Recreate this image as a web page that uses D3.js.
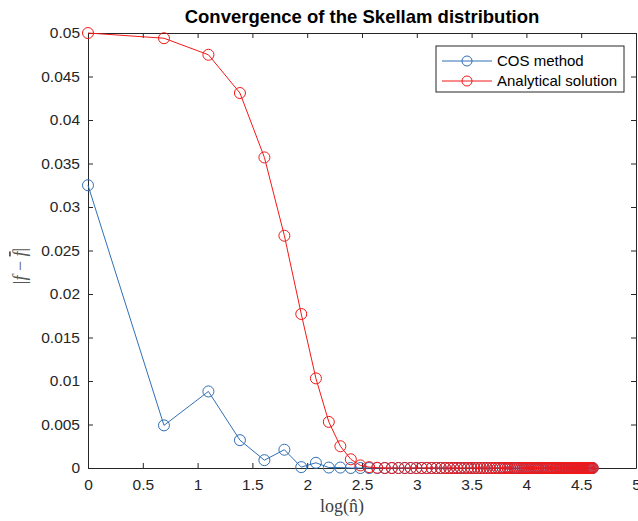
<!DOCTYPE html>
<meta charset="utf-8">
<style>
body { margin: 0; background: #fff; }
.tick text { font-family: "Liberation Sans", Arial, sans-serif; font-size: 15.5px; fill: #262626; }
.tick line, .domain { stroke: #262626; }
.lines { fill: none; stroke-width: 1px; }
.mk { fill: none; stroke-width: 1px; }
</style>
<svg width="638" height="521"></svg>
<script src="https://d3js.org/d3.v7.min.js"></script>
<script>

// n-hat values (x axis shows log of these)
var nHat = [1, 2, 3, 4, 5, 6, 7, 8, 9, 10,
  11, 12, 13, 14, 15, 16, 17, 18, 19, 20,
  21, 22, 23, 24, 25, 26, 27, 28, 29, 30,
  31, 32, 33, 34, 35, 36, 37, 38, 39, 40,
  41, 42, 43, 44, 45, 46, 47, 48, 49, 50,
  51, 52, 53, 54, 55, 56, 57, 58, 59, 60,
  61, 62, 63, 64, 65, 66, 67, 68, 69, 70,
  71, 72, 73, 74, 75, 76, 77, 78, 79, 80,
  81, 82, 83, 84, 85, 86, 87, 88, 89, 90,
  91, 92, 93, 94, 95, 96, 97, 98, 99, 100];

var cosErr = [0.0325, 0.0049, 0.0088, 0.0032, 0.0009, 0.0021, 0.0001, 0.0006, 0.00005, 0.00005,
  0, 0, 0, 0, 0, 0, 0, 0, 0, 0,
  0, 0, 0, 0, 0, 0, 0, 0, 0, 0,
  0, 0, 0, 0, 0, 0, 0, 0, 0, 0,
  0, 0, 0, 0, 0, 0, 0, 0, 0, 0,
  0, 0, 0, 0, 0, 0, 0, 0, 0, 0,
  0, 0, 0, 0, 0, 0, 0, 0, 0, 0,
  0, 0, 0, 0, 0, 0, 0, 0, 0, 0,
  0, 0, 0, 0, 0, 0, 0, 0, 0, 0,
  0, 0, 0, 0, 0, 0, 0, 0, 0, 0];

var anaErr = [0.0500, 0.0494, 0.0475, 0.0431, 0.0357, 0.0267, 0.0177, 0.0103, 0.0053, 0.0025,
  0.0010, 0.0003, 0.0001, 0.00003, 0, 0, 0, 0, 0, 0,
  0, 0, 0, 0, 0, 0, 0, 0, 0, 0,
  0, 0, 0, 0, 0, 0, 0, 0, 0, 0,
  0, 0, 0, 0, 0, 0, 0, 0, 0, 0,
  0, 0, 0, 0, 0, 0, 0, 0, 0, 0,
  0, 0, 0, 0, 0, 0, 0, 0, 0, 0,
  0, 0, 0, 0, 0, 0, 0, 0, 0, 0,
  0, 0, 0, 0, 0, 0, 0, 0, 0, 0,
  0, 0, 0, 0, 0, 0, 0, 0, 0, 0];

var xTicks = [0, 0.5, 1, 1.5, 2, 2.5, 3, 3.5, 4, 4.5, 5];
var yTicks = [0, 0.005, 0.01, 0.015, 0.02, 0.025, 0.03, 0.035, 0.04, 0.045, 0.05];

var seriesNames = ["COS method", "Analytical solution"];
var seriesColors = ["#2f6fb6", "#f21818"];

var svg = d3.select("svg"),
    margin = {top: 33, right: 2, bottom: 53, left: 88},
    width = +svg.attr("width") - margin.left - margin.right,
    height = +svg.attr("height") - margin.top - margin.bottom,
    g = svg.append("g").attr("transform", "translate(" + margin.left + "," + margin.top + ")");

var x = d3.scaleLinear().domain([0, 5]).range([0, width]);
var y = d3.scaleLinear().domain([0, 0.05]).range([height, 0]);

var fmt = function(d) { return String(+d.toFixed(3)); };

g.append("g")
    .attr("class", "axis axis--x")
    .attr("transform", "translate(0," + height + ")")
    .call(d3.axisBottom(x).tickValues(xTicks).tickSize(-5).tickPadding(11).tickSizeOuter(0).tickFormat(fmt));

g.append("g")
    .attr("class", "axis axis--y")
    .call(d3.axisLeft(y).tickValues(yTicks).tickSize(-5).tickPadding(8).tickSizeOuter(0).tickFormat(fmt));

g.append("g")
    .attr("class", "axis axis--top")
    .call(d3.axisTop(x).tickValues(xTicks).tickSize(-5).tickSizeOuter(0).tickFormat(""));

g.append("g")
    .attr("class", "axis axis--right")
    .attr("transform", "translate(" + width + ",0)")
    .call(d3.axisRight(y).tickValues(yTicks).tickSize(-5).tickSizeOuter(0).tickFormat(""));

// build series
var series = [cosErr, anaErr].map(function(vals, k) {
  return {
    name: seriesNames[k],
    color: seriesColors[k],
    values: nHat.map(function(n, i) { return {x: Math.log(n), y: vals[i]}; })
  };
});

var line = d3.line()
    .x(function(d) { return x(d.x); })
    .y(function(d) { return y(d.y); });

var sg = g.selectAll(".series").data(series).enter().append("g").attr("class", "series");

sg.append("path")
    .attr("class", "lines")
    .attr("stroke", function(d) { return d.color; })
    .attr("d", function(d) { return line(d.values); });

sg.selectAll("circle")
    .data(function(d) { return d.values.map(function(v) { return {v: v, c: d.color}; }); })
    .enter().append("circle")
    .attr("class", "mk")
    .attr("cx", function(d) { return x(d.v.x); })
    .attr("cy", function(d) { return y(d.v.y); })
    .attr("r", 5.5)
    .attr("stroke", function(d) { return d.c; });

// title
svg.append("text")
    .attr("x", margin.left + width / 2)
    .attr("y", 23)
    .attr("text-anchor", "middle")
    .style("font-family", "'Liberation Sans', Arial, sans-serif")
    .style("font-size", "18.5px")
    .style("font-weight", "bold")
    .style("fill", "#000")
    .text("Convergence of the Skellam distribution");

// x label
svg.append("text")
    .attr("x", 342)
    .attr("y", 512)
    .attr("text-anchor", "middle")
    .style("font-family", "'Liberation Serif', 'DejaVu Serif', serif")
    .style("font-size", "18px")
    .style("fill", "#404040")
    .text("log(n\u0302)");

// y label
var yl = svg.append("text")
    .attr("transform", "translate(26,266) rotate(-90)")
    .attr("text-anchor", "middle")
    .style("font-family", "'Liberation Serif', 'DejaVu Serif', serif")
    .style("font-size", "18px")
    .style("fill", "#555");
yl.append("tspan").text("|");
yl.append("tspan").style("font-style", "italic").text("f");
yl.append("tspan").text(" \u2212 ");
yl.append("tspan").style("font-style", "italic").style("text-decoration", "overline").text("f");
yl.append("tspan").text("|");

// legend
var lg = svg.append("g").attr("transform", "translate(436,46)");
lg.append("rect")
    .attr("width", 188).attr("height", 46)
    .attr("fill", "#fff").attr("stroke", "#262626").attr("stroke-width", 1);

var li = lg.selectAll(".li").data(series).enter().append("g")
    .attr("transform", function(d, i) { return "translate(0," + (15 + i * 20) + ")"; });
li.append("line").attr("x1", 6).attr("x2", 56).attr("stroke", function(d) { return d.color; });
li.append("circle").attr("cx", 31).attr("r", 5).attr("fill", "none").attr("stroke", function(d) { return d.color; });
li.append("text")
    .attr("x", 61).attr("dy", "0.35em")
    .style("font-family", "'Liberation Sans', Arial, sans-serif")
    .style("font-size", "15px")
    .style("fill", "#000")
    .text(function(d) { return d.name; });

</script>
